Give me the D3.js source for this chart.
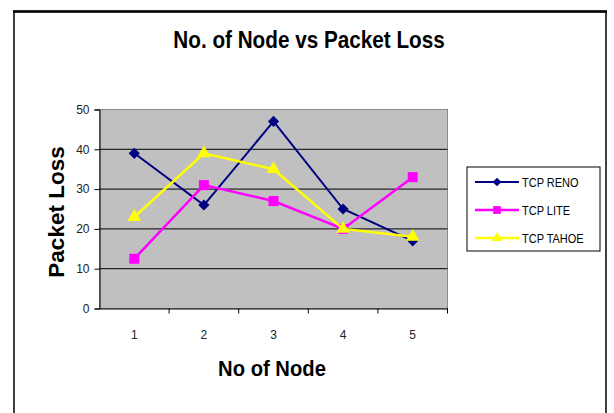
<!DOCTYPE html>
<html>
<head>
<meta charset="utf-8">
<script src="https://cdn.jsdelivr.net/npm/d3@7/dist/d3.min.js"></script>
<style>
  html, body { margin: 0; padding: 0; background: #fff; }
  svg { display: block; font-family: "Liberation Sans", Arial, sans-serif; }
</style>
</head>
<body>
<svg id="chart" width="614" height="413"></svg>
<script>
// Packet loss per number of nodes for three TCP variants
const nodes = ["1", "2", "3", "4", "5"];
const renoLoss = [39, 26, 47, 25, 17];
const liteLoss = [12.5, 31, 27, 20, 33];
const tahoeLoss = [23, 39, 35, 20, 18];
const yTicks = [0, 10, 20, 30, 40, 50];
const seriesNames = ["TCP RENO", "TCP LITE", "TCP TAHOE"];

const series = [
  { name: seriesNames[0], values: renoLoss, color: "#000080", symbol: d3.symbolDiamond2, size: 80, width: 2 },
  { name: seriesNames[1], values: liteLoss, color: "#ff00ff", symbol: d3.symbolSquare, size: 100, width: 2.5 },
  { name: seriesNames[2], values: tahoeLoss, color: "#ffff00", symbol: d3.symbolTriangle, size: 80, width: 2.5 }
];

const svg = d3.select("#chart");

// chart frame
svg.append("rect")
  .attr("x", 14).attr("y", 11.5).attr("width", 592).attr("height", 420)
  .attr("fill", "#fff").attr("stroke", "#111").attr("stroke-width", 1.6);
svg.append("line")
  .attr("x1", 13).attr("x2", 607).attr("y1", 11.5).attr("y2", 11.5)
  .attr("stroke", "#000").attr("stroke-width", 2.6);

const plot = { left: 99.5, right: 447.5, top: 109.5, bottom: 308.5 };

const x = d3.scaleBand().domain(nodes).range([plot.left, plot.right]);
const y = d3.scaleLinear().domain([0, 50]).range([plot.bottom, plot.top]);

// plot area
svg.append("rect")
  .attr("x", plot.left).attr("y", plot.top)
  .attr("width", plot.right - plot.left).attr("height", plot.bottom - plot.top)
  .attr("fill", "#c0c0c0").attr("stroke", "#8a8a8a").attr("stroke-width", 1);

// horizontal gridlines
svg.append("g").selectAll("line")
  .data(yTicks.filter(t => t > 0 && t < 50))
  .join("line")
  .attr("x1", plot.left).attr("x2", plot.right)
  .attr("y1", d => y(d)).attr("y2", d => y(d))
  .attr("stroke", "#000").attr("stroke-width", 1);

// y axis
const yAxis = svg.append("g")
  .attr("transform", `translate(${plot.left},0)`)
  .call(d3.axisLeft(y).tickValues(yTicks).tickSize(5).tickPadding(5));
yAxis.select(".domain").attr("stroke", "#000");
yAxis.selectAll(".tick line").attr("stroke", "#000");
yAxis.selectAll(".tick text").attr("font-size", 12).attr("fill", "#222")
  .attr("font-family", "Liberation Sans, Arial, sans-serif");

// x axis: labels centred in each category, ticks on category boundaries
const xAxis = svg.append("g")
  .attr("transform", `translate(0,${plot.bottom})`)
  .call(d3.axisBottom(x).tickSize(0).tickPadding(22).tickSizeOuter(0));
xAxis.select(".domain").attr("stroke", "#000");
xAxis.selectAll(".tick text").attr("font-size", 12).attr("fill", "#222")
  .attr("font-family", "Liberation Sans, Arial, sans-serif");
svg.append("g").selectAll("line")
  .data(nodes.slice(1).concat(["end"]))
  .join("line")
  .attr("x1", (d, i) => x(nodes[0]) + x.step() * (i + 1))
  .attr("x2", (d, i) => x(nodes[0]) + x.step() * (i + 1))
  .attr("y1", plot.bottom).attr("y2", plot.bottom + 5)
  .attr("stroke", "#000");

// series lines and markers
const line = d3.line()
  .x((d, i) => x(nodes[i]) + x.bandwidth() / 2)
  .y(d => y(d));

series.forEach(s => {
  svg.append("path")
    .datum(s.values)
    .attr("d", line)
    .attr("fill", "none")
    .attr("stroke", s.color)
    .attr("stroke-width", s.width);
  svg.append("g").selectAll("path")
    .data(s.values)
    .join("path")
    .attr("transform", (d, i) => `translate(${x(nodes[i]) + x.bandwidth() / 2},${y(d)})`)
    .attr("d", d3.symbol().type(s.symbol).size(s.size))
    .attr("fill", s.color);
});

// titles (slightly condensed bold face)
svg.append("text")
  .attr("transform", "translate(309,48) scale(0.9,1)")
  .attr("text-anchor", "middle")
  .attr("font-size", 23).attr("font-weight", "bold")
  .text("No. of Node vs Packet Loss");

svg.append("text")
  .attr("transform", "translate(272,376) scale(0.92,1)")
  .attr("text-anchor", "middle")
  .attr("font-size", 22).attr("font-weight", "bold")
  .text("No of Node");

svg.append("text")
  .attr("transform", "translate(64,212) rotate(-90)")
  .attr("text-anchor", "middle")
  .attr("font-size", 22.5).attr("font-weight", "bold")
  .text("Packet Loss");

// legend
const legend = svg.append("g");
legend.append("rect")
  .attr("x", 467).attr("y", 167).attr("width", 133).attr("height", 84)
  .attr("fill", "#fff").attr("stroke", "#000").attr("stroke-width", 1);
const rowY = d3.scalePoint().domain(seriesNames).range([182, 238]);
series.forEach(s => {
  const g = legend.append("g").attr("transform", `translate(0,${rowY(s.name)})`);
  g.append("line").attr("x1", 475).attr("x2", 519)
    .attr("stroke", s.color).attr("stroke-width", s.width);
  g.append("path").attr("transform", "translate(497,0)")
    .attr("d", d3.symbol().type(s.symbol).size(s.size * 0.6))
    .attr("fill", s.color);
  g.append("text").attr("transform", "translate(522,4.5) scale(0.88,1)")
    .attr("font-size", 12.5)
    .text(s.name);
});
</script>
</body>
</html>
